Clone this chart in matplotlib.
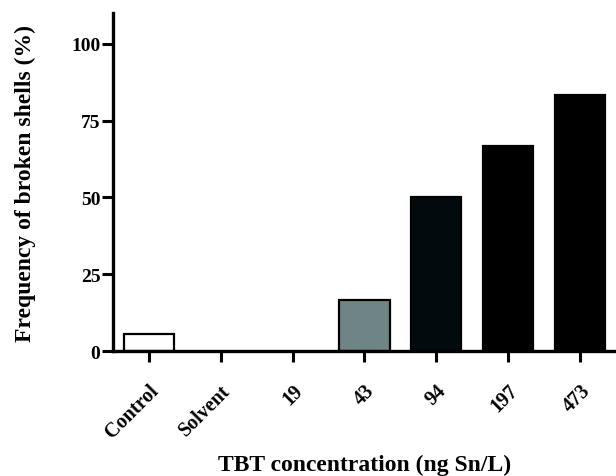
import matplotlib
matplotlib.use("Agg")
import matplotlib.pyplot as plt

# frequency of broken shells per TBT treatment
groups = ["Control", "Solvent", "19", "43", "94", "197", "473"]
broken = [5.56, 0.0, 0.0, 16.67, 50.0, 66.67, 83.33]
fills = ["#ffffff", "#ffffff", "#ffffff", "#6f8585", "#020a0d", "#000000", "#000000"]

plt.rcParams["font.family"] = ["Liberation Serif", "DejaVu Serif"]
plt.rcParams["font.weight"] = "bold"

fig = plt.figure(figsize=(6.16, 4.77), dpi=100)
ax = fig.add_axes([0.1834, 0.262, 0.8166, 0.7086])

bars = ax.bar(range(len(groups)), broken, width=0.7, color=fills,
              edgecolor="black", linewidth=1.6)
# empty groups show no outline in the original
for b, v in zip(bars, broken):
    if v == 0:
        b.set_linewidth(0)

ax.set_xlim(-0.5, 6.5)
ax.set_ylim(0, 110)
ax.set_yticks([0, 25, 50, 75, 100])
ax.set_xticks(range(len(groups)))
ax.set_xticklabels(groups, rotation=45, ha="right", rotation_mode="anchor",
                   fontsize=14.5, fontweight="bold")
for lab in ax.get_yticklabels():
    lab.set_fontsize(14)
    lab.set_fontweight("bold")

for side in ["top", "right"]:
    ax.spines[side].set_visible(False)
for side in ["left", "bottom"]:
    ax.spines[side].set_linewidth(2.4)
ax.tick_params(axis="both", direction="out", length=8, width=2.2)
ax.tick_params(axis="y", pad=1)
ax.tick_params(axis="x", pad=13)

ax.set_xlabel("TBT concentration (ng Sn/L)", fontsize=17, fontweight="bold")
ax.set_ylabel("Frequency of broken shells (%)", fontsize=17, fontweight="bold")
ax.xaxis.set_label_coords(0.5, -0.305)
ax.yaxis.set_label_coords(-0.154, 0.5)

fig.savefig("out.png", dpi=100)
